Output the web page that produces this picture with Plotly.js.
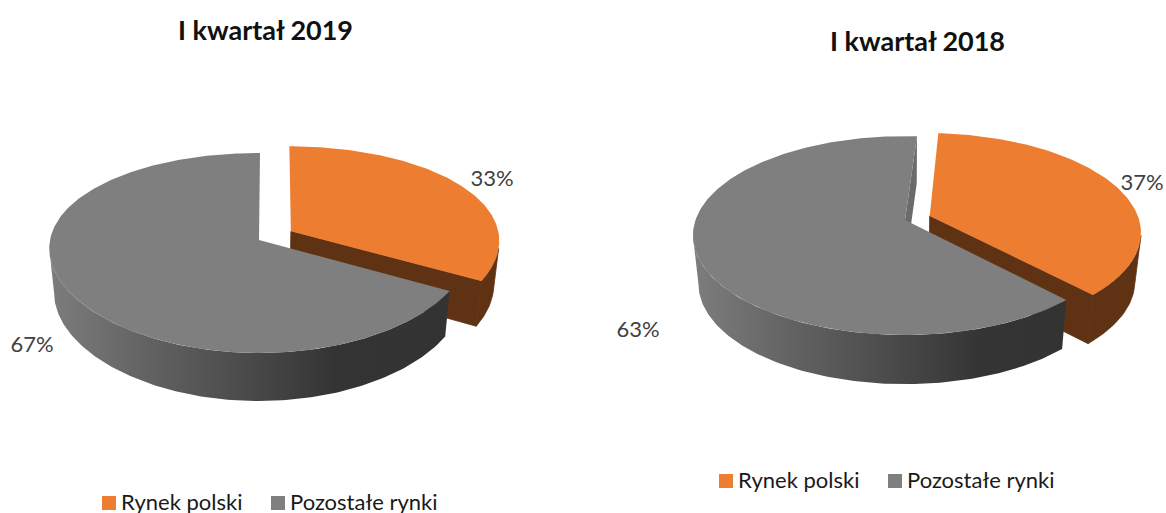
<!DOCTYPE html>
<html>
<head>
<meta charset="utf-8">
<script src="https://cdn.plot.ly/plotly-3.0.1.min.js"></script>
<style>html,body{margin:0;padding:0;background:#fff;overflow:hidden}</style>
</head>
<body>
<div id="chart" style="width:1166px;height:513px"></div>
<script>
// ---- data ----
const categories = ["Rynek polski", "Pozostałe rynki"];
const values2019 = [33, 67];
const values2018 = [37, 63];
const titles = ["I kwartał 2019", "I kwartał 2018"];

// ---- styles ----
const ORANGE = "#ec7d31", BROWN = "#5f3214", GREY = "#7f7f7f", SLIVER = "#6b6b6b";
const LABEL = "#404040", TXT = "#1a1a1a";
const BODY_FONT = "Lato, sans-serif";
const TITLE_FONT = "Lato, sans-serif";

const traces = [];
const rad = d => d * Math.PI / 180;
const deg = r => r * 180 / Math.PI;

function addPie(values, g) {
  const total = values[0] + values[1];
  const sweep = 360 * values[0] / total;
  const a0 = g.rot, a1 = g.rot + sweep, a2 = g.rot + 360;
  const mid = rad(a0 + sweep / 2);
  const ox = g.d * Math.sin(mid), oy = -g.d * Math.cos(mid);

  // perspective projection of a unit disc point onto the page
  const top = (X, Y) => [
    g.cx + g.rx * X / (1 - g.kx * Y),
    g.cy + g.ry * Y / (1 - g.k * Y)
  ];
  const bot = (X, Y) => {
    const p = top(X, Y);
    return [g.cx + (p[0] - g.cx) * g.sx, g.cy + (p[1] - g.cy) * g.sy + g.h];
  };
  const arc = (from, to, shiftX, shiftY, fn) => {
    const out = [];
    const n = Math.max(2, Math.ceil(Math.abs(to - from)));
    for (let i = 0; i <= n; i++) {
      const t = rad(from + (to - from) * i / n);
      out.push(fn(Math.sin(t) + shiftX, -Math.cos(t) + shiftY));
    }
    return out;
  };
  const poly = (pts, extra) => {
    const closed = pts.concat([pts[0]]);
    traces.push(Object.assign({
      type: "scatter", mode: "lines", x: closed.map(p => p[0]), y: closed.map(p => p[1]),
      fill: "toself", line: {width: 0}, hoverinfo: "skip", showlegend: false
    }, extra));
  };
  const wall = (from, to, sx, sy) =>
    arc(from, to, sx, sy, top).concat(arc(to, from, sx, sy, bot));

  // first slice (exploded): walls then face; outer wall starts at the disc's silhouette
  const rightSil = deg(Math.acos(oy - g.kx));
  const wallFrom = Math.min(rightSil, a1), wallTo = a1;
  const brownEdge = {width: 0.8, color: BROWN};
  poly(wall(wallFrom, wallTo, ox, oy), {fillcolor: BROWN, line: brownEdge});
  const tA = top(ox, oy), bA = bot(ox, oy);
  const e = rad(a1);
  const eX = Math.sin(e) + ox, eY = -Math.cos(e) + oy;
  poly([tA, top(eX, eY), bot(eX, eY), bA], {fillcolor: BROWN, line: brownEdge});
  poly([tA].concat(arc(a0, a1, ox, oy, top)), {fillcolor: ORANGE, name: categories[0]});

  // second slice: outer wall, cut wall sliver, face
  const leftSil = 360 - deg(Math.acos(-g.kx));
  poly(wall(a1, leftSil, 0, 0), {
    fillcolor: GREY,
    fillgradient: {
      type: "horizontal", start: g.cx - g.rx * 1.01, stop: g.cx + g.rx * 0.9,
      colorscale: [[0, "#7d7d7d"], [0.25, "#626262"], [0.5, "#4a4a4a"], [0.72, "#343434"], [1, "#333333"]]
    }
  });
  const s = rad(a0);
  if (g.rot > 1) {
    poly([top(0, 0), top(Math.sin(s), -Math.cos(s)), bot(Math.sin(s), -Math.cos(s)), bot(0, 0)], {fillcolor: SLIVER});
  }
  poly([top(0, 0)].concat(arc(a1, a2, 0, 0, top)), {fillcolor: GREY, name: categories[1]});

  // percent labels
  traces.push({
    type: "scatter", mode: "text", x: g.labelX, y: g.labelY,
    text: values.map(v => v + "%"), textposition: "middle center",
    textfont: {family: BODY_FONT, size: g.labelSize, color: LABEL},
    hoverinfo: "skip", showlegend: false, cliponaxis: false
  });

  // legend
  traces.push({
    type: "scatter", mode: "markers", x: g.keyX, y: [g.keyY, g.keyY],
    marker: {symbol: "square", size: 14, color: [ORANGE, GREY]},
    hoverinfo: "skip", showlegend: false, cliponaxis: false
  });
  traces.push({
    type: "scatter", mode: "text", x: g.keyTextX, y: [g.keyY + 1, g.keyY + 1],
    text: categories, textposition: "middle right",
    textfont: {family: BODY_FONT, size: g.keySize, color: TXT},
    hoverinfo: "skip", showlegend: false, cliponaxis: false
  });
}

addPie(values2019, {
  cx: 259, cy: 240, rx: 209, ry: 98.3, k: 0.13, kx: 0.086, rot: 0.3, d: 0.178,
  sx: 0.977, sy: 1.04, h: 43.5,
  labelX: [492, 32], labelY: [180, 346], labelSize: 22,
  keyX: [109, 278], keyY: 503, keyTextX: [121, 290], keySize: 22
});
addPie(values2018, {
  cx: 905, cy: 220, rx: 209.5, ry: 97, k: 0.156, kx: 0.156, rot: 3.8, d: 0.126,
  sx: 0.974, sy: 1.01, h: 48,
  labelX: [1142, 638], labelY: [184, 331], labelSize: 22,
  keyX: [726, 895], keyY: 481, keyTextX: [738, 907], keySize: 22
});

const layout = {
  width: 1166, height: 513,
  margin: {l: 0, r: 0, t: 0, b: 0},
  paper_bgcolor: "#fff", plot_bgcolor: "#fff",
  showlegend: false,
  xaxis: {range: [0, 1166], visible: false, fixedrange: true},
  yaxis: {range: [513, 0], visible: false, fixedrange: true},
  annotations: [
    {text: "<b>" + titles[0] + "</b>", x: 265, y: 29, xref: "x", yref: "y", showarrow: false,
     font: {family: TITLE_FONT, size: 27, color: "#111"}},
    {text: "<b>" + titles[1] + "</b>", x: 917, y: 40, xref: "x", yref: "y", showarrow: false,
     font: {family: TITLE_FONT, size: 27, color: "#111"}}
  ]
};
Plotly.newPlot("chart", traces, layout, {displayModeBar: false, staticPlot: true});
</script>
</body>
</html>
